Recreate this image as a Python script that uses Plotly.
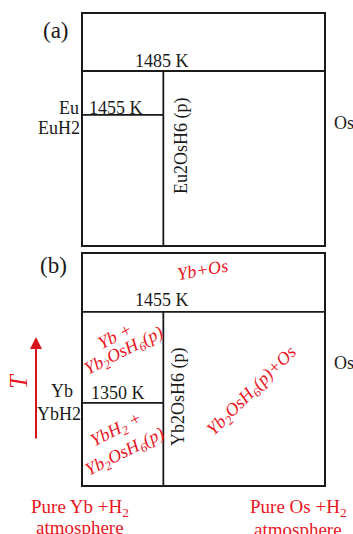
import plotly.graph_objects as go

# ---- data (schematic phase diagrams) ----
compound_os_fraction = 1 / 3          # A2OsH6: one Os of three metal atoms
panel_a_temps = [1485, 1455]          # K  (Eu-Os-H)
panel_b_temps = [1455, 1350]          # K  (Yb-Os-H)
panel_a_trange = [1366, 1524]
panel_b_trange = [1255, 1522]

W, H = 353, 534
RED = "#e8161e"
INK = "#1a1a1a"
FONT = "Liberation Serif, Times New Roman, serif"

def px(x):
    return x / W

def py(y):
    return 1 - y / H

fig = go.Figure()

def add_panel(xa, ya, temps, trange):
    t_high, t_low = temps
    f = compound_os_fraction
    line = dict(color=INK, width=1.8)
    fig.add_trace(go.Scatter(x=[0, 1], y=[t_high, t_high], mode="lines", line=line,
                             xaxis=xa, yaxis=ya, hoverinfo="skip", showlegend=False))
    fig.add_trace(go.Scatter(x=[f, f], y=[trange[0], t_high], mode="lines", line=line,
                             xaxis=xa, yaxis=ya, hoverinfo="skip", showlegend=False))
    fig.add_trace(go.Scatter(x=[0, f], y=[t_low, t_low], mode="lines", line=line,
                             xaxis=xa, yaxis=ya, hoverinfo="skip", showlegend=False))

axis_common = dict(showgrid=False, zeroline=False, showticklabels=False, ticks="",
                   showline=True, mirror=True, linecolor=INK, linewidth=1.8)

fig.update_layout(
    width=W, height=H, margin=dict(l=0, r=0, t=0, b=0),
    paper_bgcolor="white", plot_bgcolor="white",
    xaxis=dict(domain=[px(83), px(324)], range=[0, 1], anchor="y", **axis_common),
    yaxis=dict(domain=[py(245), py(14)], range=panel_a_trange, anchor="x", **axis_common),
    xaxis2=dict(domain=[px(83), px(324)], range=[0, 1], anchor="y2", **axis_common),
    yaxis2=dict(domain=[py(485), py(254)], range=panel_b_trange, anchor="x2", **axis_common),
    showlegend=False,
)

add_panel("x", "y", panel_a_temps, panel_a_trange)
add_panel("x2", "y2", panel_b_temps, panel_b_trange)

def label(text, x, y, size=18, color=INK, angle=0, xanchor="center", italic=False):
    if italic:
        text = "<i>" + text + "</i>"
    fig.add_annotation(text=text, x=px(x), y=py(y), xref="paper", yref="paper",
                       showarrow=False, xanchor=xanchor, yanchor="middle",
                       textangle=angle, font=dict(family=FONT, size=size, color=color))

# panel (a)
label("(a)", 56, 30, size=23)
label(f"{panel_a_temps[0]} K", 162, 61)
label("Eu", 81, 108, xanchor="right")
label(f"{panel_a_temps[1]} K", 87, 108, xanchor="left")
label("EuH2", 82, 128, xanchor="right")
label("Eu2OsH6 (p)", 181, 145, angle=-90)
label("Os", 332, 123, xanchor="left", size=18)

# panel (b)
label("(b)", 53, 265, size=23)
label("Yb+Os", 202, 270, color=RED, angle=-10, italic=True)
label(f"{panel_b_temps[0]} K", 162, 300)
label("Yb +", 115, 336, color=RED, angle=-27, italic=True)
label("Yb<sub>2</sub>OsH<sub>6</sub>(p)", 124, 351, color=RED, angle=-27, italic=True)
label(f"{panel_b_temps[1]} K", 89, 393, xanchor="left")
label("Yb", 62, 391)
label("YbH2", 83, 414, xanchor="right")
label("YbH<sub>2</sub> +", 116, 430, color=RED, angle=-27, italic=True)
label("Yb<sub>2</sub>OsH<sub>6</sub>(p)", 125, 452, color=RED, angle=-27, italic=True)
label("Yb2OsH6 (p)", 178, 397, angle=-90)
label("Yb<sub>2</sub>OsH<sub>6</sub>(p)+Os", 252, 391, color=RED, angle=-45, italic=True)
label("Os", 332, 363, xanchor="left", size=18)

# temperature arrow
fig.add_annotation(x=px(36), y=py(337), xref="paper", yref="paper",
                   ax=0, ay=103, showarrow=True, arrowhead=2,
                   arrowsize=1.2, arrowwidth=2, arrowcolor="#d8141b", text="")
label("T", 18, 381, size=25, color=RED, angle=-90, italic=True)

# bottom labels
label("Pure Yb +H<sub>2</sub>", 80, 508, size=19, color=RED)
label("atmosphere", 80, 527, size=19, color=RED)
label("Pure Os +H<sub>2</sub>", 298, 508, size=19, color=RED)
label("atmosphere", 298, 529, size=19, color=RED)

# remove the page's default body margin so the figure fills the window
fig.write_html("out.html",
               config={"displayModeBar": False},
               post_script="document.body.style.margin='0';"
                           "document.body.style.overflow='hidden';")
